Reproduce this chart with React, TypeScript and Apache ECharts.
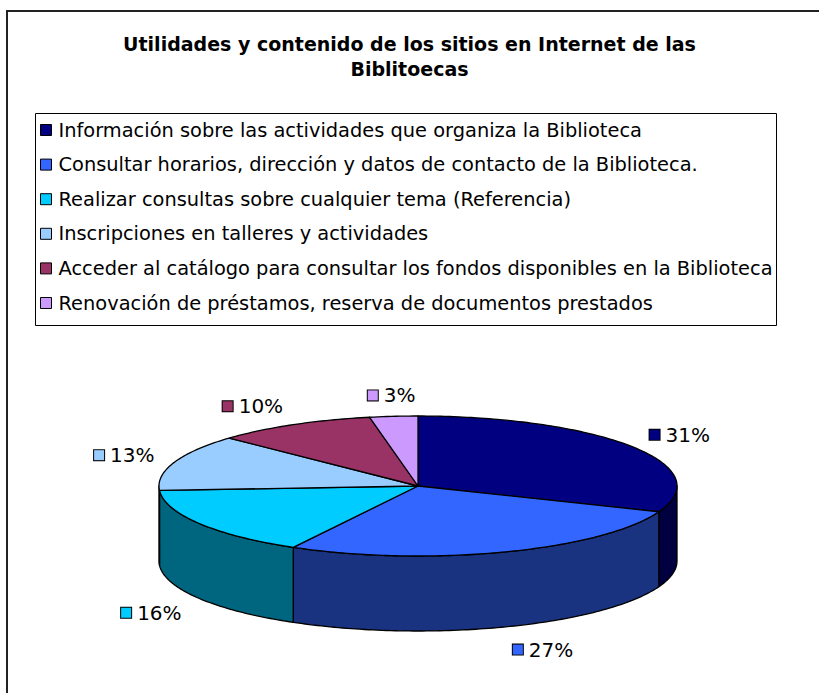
import React, { useEffect, useRef } from "react";
import * as echarts from "echarts";

const titleText = "Utilidades y contenido de los sitios en Internet de las\nBiblitoecas";

const categories = [
  "Información sobre las actividades que organiza la Biblioteca",
  "Consultar horarios, dirección y datos de contacto de la Biblioteca.",
  "Realizar consultas sobre cualquier tema (Referencia)",
  "Inscripciones en talleres y actividades",
  "Acceder al catálogo para consultar los fondos disponibles en la Biblioteca",
  "Renovación de préstamos, reserva de documentos prestados",
];

const values = [31, 27, 16, 13, 10, 3];

const topColors = ["#000080", "#3366FF", "#00CCFF", "#99CCFF", "#993366", "#CC99FF"];
const wallColors = ["#000040", "#1A3380", "#006680", "#4D6680", "#4D1A33", "#664D80"];

const FONT = "DejaVu Sans";

// 3D pie geometry (layout, not data)
const CX = 418;
const CY = 486;
const RX = 259;
const RY = 70;
const DEPTH = 75;
const LABEL_GAP = 21;

function makeRender(i: number) {
  return (params: any, api: any) => {
    const start = api.value(0) as number;
    const val = api.value(1) as number;
    const total = api.value(2) as number;
    const t0 = (start / total) * Math.PI * 2;
    const t1 = ((start + val) / total) * Math.PI * 2;
    const P = (t: number, dy = 0) => [CX + RX * Math.sin(t), CY - RY * Math.cos(t) + dy];
    const arc = (a: number, b: number, dy = 0) => {
      const n = Math.max(2, Math.ceil((b - a) / (Math.PI / 180)));
      const pts: number[][] = [];
      for (let k = 0; k <= n; k++) pts.push(P(a + ((b - a) * k) / n, dy));
      return pts;
    };
    const children: any[] = [];
    const a = Math.max(t0, Math.PI / 2);
    const b = Math.min(t1, (Math.PI * 3) / 2);
    if (b > a) {
      const upper = arc(a, b);
      const lower = arc(a, b, DEPTH).reverse();
      children.push({
        type: "polygon",
        shape: { points: upper.concat(lower) },
        style: { fill: wallColors[i], stroke: "#000", lineWidth: 1.3, lineJoin: "round" },
      });
    }
    children.push({
      type: "polygon",
      shape: { points: [[CX, CY]].concat(arc(t0, t1)) },
      style: { fill: topColors[i], stroke: "#000", lineWidth: 1.3, lineJoin: "round" },
    });
    const tm = (t0 + t1) / 2;
    const s = Math.sin(tm);
    const c = Math.cos(tm);
    const front = c < 0;
    const lx = CX + (RX + LABEL_GAP) * s;
    const ly = CY + (front ? DEPTH + 3 : 0) - (RY + LABEL_GAP) * c;
    const align = Math.abs(s) < 0.2 ? "center" : s > 0 ? "left" : "right";
    const pct = Math.round((val / total) * 100) + "%";
    children.push({
      type: "text",
      x: lx,
      y: ly,
      style: {
        text: "{m|}{t|" + pct + "}",
        align,
        verticalAlign: "middle",
        rich: {
          m: {
            width: 10,
            height: 10,
            backgroundColor: topColors[i],
            borderColor: "#000",
            borderWidth: 1,
          },
          t: {
            fontFamily: FONT,
            fontSize: 20,
            fill: "#000",
            padding: [0, 0, 0, 6],
          },
        },
      },
    });
    return { type: "group", children };
  };
}

export default function App() {
  const ref = useRef<HTMLDivElement>(null);
  useEffect(() => {
    if (!ref.current) return;
    const chart = echarts.init(ref.current, undefined, { renderer: "svg" });
    const total = values.reduce((x, y) => x + y, 0);
    let cum = 0;
    const series = values.map((v, i) => {
      const item = [cum, v, total, i];
      cum += v;
      return {
        type: "custom",
        name: categories[i],
        coordinateSystem: "none",
        silent: true,
        itemStyle: { color: topColors[i] },
        renderItem: makeRender(i),
        data: [item],
      };
    });
    chart.setOption({
      animation: false,
      backgroundColor: "#fff",
      title: {
        text: titleText,
        left: "center",
        top: 31,
        padding: 0,
        textStyle: {
          fontFamily: FONT,
          fontSize: 19,
          fontWeight: "bold",
          color: "#000",
          lineHeight: 25,
        },
      },
      legend: {
        orient: "vertical",
        left: 40,
        top: 118.5,
        padding: 0,
        icon: "rect",
        itemWidth: 11,
        itemHeight: 11,
        itemGap: 11.6,
        selectedMode: false,
        itemStyle: { borderColor: "#000", borderWidth: 1 },
        textStyle: {
          fontFamily: FONT,
          fontSize: 19.4,
          color: "#000",
          lineHeight: 23,
          padding: [0, 0, 0, 2],
        },
        data: categories,
      },
      graphic: [
        {
          type: "rect",
          shape: { x: 7, y: 11, width: 900, height: 900 },
          style: { fill: "none", stroke: "#222", lineWidth: 2 },
        },
        {
          type: "rect",
          shape: { x: 35.5, y: 113.5, width: 741, height: 212 },
          style: { fill: "none", stroke: "#000", lineWidth: 1 },
        },
      ],
      series,
    });
    return () => chart.dispose();
  }, []);
  return <div ref={ref} style={{ position: "fixed", left: 0, top: 0, width: 819, height: 693 }} />;
}
